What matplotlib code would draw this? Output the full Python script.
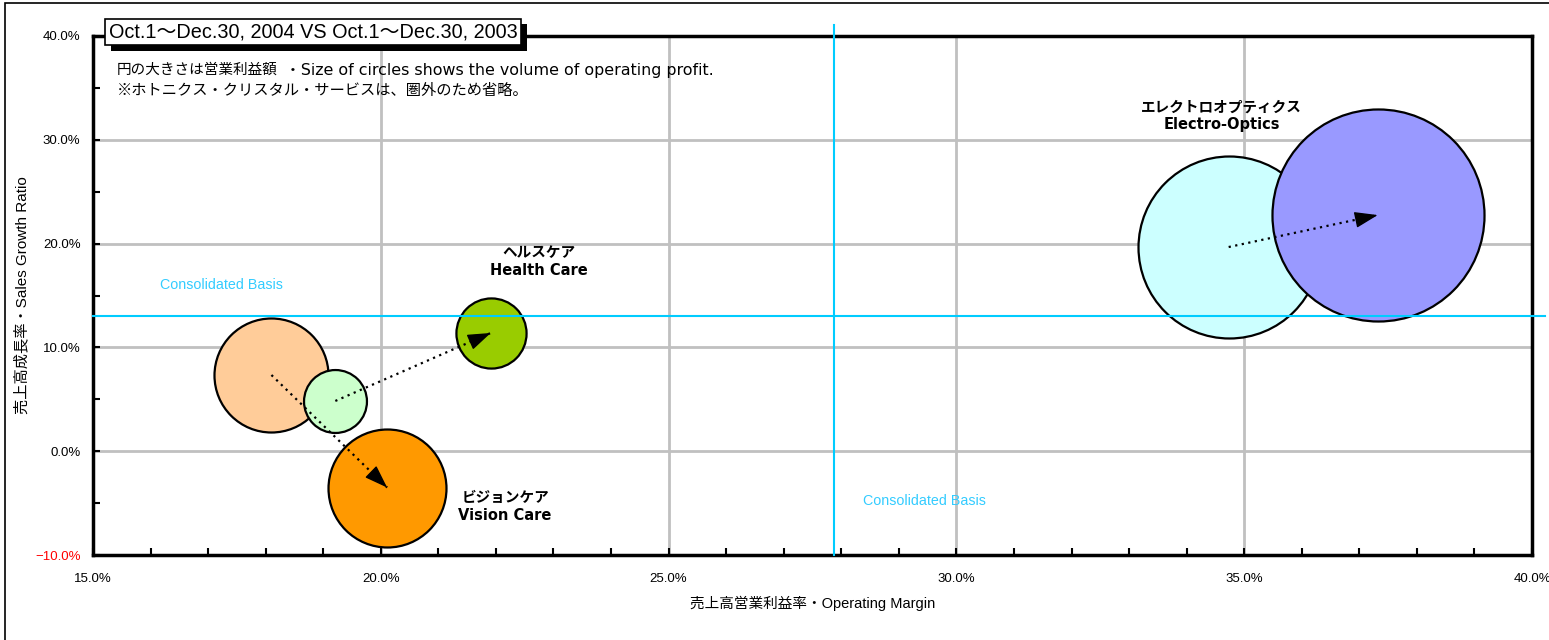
import matplotlib
matplotlib.use("Agg")
import numpy as np
import matplotlib.pyplot as plt
import matplotlib.patheffects as pe
from matplotlib.ticker import MultipleLocator, FuncFormatter
from matplotlib.patches import Rectangle

plt.rcParams['font.family'] = ['Noto Sans CJK JP', 'DejaVu Sans']
LATIN_WIDE = ['DejaVu Sans', 'Noto Sans CJK JP']
LATIN_ARIAL = ['Liberation Sans', 'Noto Sans CJK JP']

# segment data: operating margin (%), sales growth (%), operating profit (size)
segments = ["ビジョンケア\nVision Care", "ヘルスケア\nHealth Care", "エレクトロオプティクス\nElectro-Optics"]
margin_2003 = [18.10, 19.21, 34.73]
growth_2003 = [7.34, 4.84, 19.67]
profit_2003 = [32.5, 9.9, 82.8]
margin_2004 = [20.11, 21.91, 37.32]
growth_2004 = [-3.50, 11.39, 22.75]
profit_2004 = [34.8, 12.3, 112.4]
colors_2003 = ["#FFCC99", "#CCFFCC", "#CCFFFF"]
colors_2004 = ["#FF9900", "#99CC00", "#9999FF"]
label_pos = [(22.16, -5.3), (22.75, 18.3), (34.61, 32.3)]

basis_x = 27.87
basis_y = 13.03

fig = plt.figure(figsize=(15.49, 6.40), dpi=100)
ax = fig.add_axes([93 / 1549, 85 / 640, 1439 / 1549, 519 / 640])
ax.set_xlim(15, 40)
ax.set_ylim(-10, 40)


def bubble_size(p):
    # radius in pixels ~ 10*sqrt(profit) -> marker area in points^2
    r = 10 * p ** 0.5
    return (2 * r * 0.72) ** 2


# draw in stacking order
order = [(0, 2003), (0, 2004), (1, 2003), (1, 2004), (2, 2003), (2, 2004)]
for i, yr in order:
    if yr == 2003:
        ax.scatter(margin_2003[i], growth_2003[i], s=bubble_size(profit_2003[i]),
                   color=colors_2003[i], edgecolor="black", linewidth=1.6, zorder=3)
    else:
        ax.scatter(margin_2004[i], growth_2004[i], s=bubble_size(profit_2004[i]),
                   color=colors_2004[i], edgecolor="black", linewidth=1.6, zorder=3)

# dotted movement arrows 2003 -> 2004 with a solid head
for i in range(3):
    x0, y0 = margin_2003[i], growth_2003[i]
    x1, y1 = margin_2004[i], growth_2004[i]
    ax.plot([x0, x1], [y0, y1], color="black", lw=1.6, linestyle=(0, (1, 2)), zorder=5)
    p0 = ax.transData.transform((x0, y0))
    p1 = ax.transData.transform((x1, y1))
    d = (p1 - p0) / np.hypot(*(p1 - p0))
    back = 14 * 0.72
    ax.annotate("", xy=(x1, y1), xytext=(-d[0] * back, -d[1] * back),
                textcoords="offset points",
                arrowprops=dict(arrowstyle="-|>,head_length=1.2,head_width=0.42",
                                lw=1.0, color="black", shrinkA=0, shrinkB=0,
                                mutation_scale=12),
                zorder=6)
    ax.text(label_pos[i][0], label_pos[i][1], segments[i], ha="center", va="center",
            fontsize=10.5, fontweight="bold", linespacing=1.25, family=LATIN_WIDE, zorder=6)

# consolidated basis reference lines
ax.plot([15, 40.23], [basis_y, basis_y], color="#00CCFF", lw=1.5, clip_on=False, zorder=4)
ax.plot([basis_x, basis_x], [-10, 41.06], color="#00CCFF", lw=1.5, clip_on=False, zorder=4)
ax.text(17.24, 16.0, "Consolidated Basis", color="#33CCFF", fontsize=10.3,
        family=LATIN_ARIAL, ha="center", va="center")
ax.text(29.44, -4.8, "Consolidated Basis", color="#33CCFF", fontsize=10.3,
        family=LATIN_ARIAL, ha="center", va="center")

# axes styling
ax.xaxis.set_major_locator(MultipleLocator(5))
ax.xaxis.set_minor_locator(MultipleLocator(1))
ax.yaxis.set_major_locator(MultipleLocator(10))
ax.yaxis.set_minor_locator(MultipleLocator(5))
ax.xaxis.set_major_formatter(FuncFormatter(lambda v, _: f"{v:.1f}%"))
ax.yaxis.set_major_formatter(FuncFormatter(lambda v, _: f"{v:.1f}%".replace("-", "\u2212")))
ax.tick_params(which="both", direction="in", length=5, width=1.5, top=False, right=False)
ax.tick_params(axis="x", pad=13)
ax.tick_params(axis="y", pad=9)
for lab in ax.get_xticklabels() + ax.get_yticklabels():
    lab.set_fontsize(9.5)
    lab.set_family(["Liberation Sans Narrow", "Liberation Sans", "DejaVu Sans"])
for lab in ax.get_yticklabels():
    if lab.get_text().startswith("\u2212"):
        lab.set_color("red")
ax.grid(True, which="major", color="#C0C0C0", lw=2, zorder=0)
ax.set_axisbelow(True)
for sp in ax.spines.values():
    sp.set_linewidth(2.5)
    sp.set_color("black")

ax.set_xlabel("売上高営業利益率・Operating Margin", fontsize=10.5, labelpad=8, family=LATIN_ARIAL)
ax.set_ylabel("売上高成長率・Sales Growth Ratio", fontsize=11, labelpad=4, family=LATIN_ARIAL)

# title box with shadow
t = fig.text(109 / 1549, 1 - 32 / 640, "Oct.1〜Dec.30, 2004 VS Oct.1〜Dec.30, 2003",
             fontsize=14.3, va="center", ha="left", family=LATIN_ARIAL,
             bbox=dict(boxstyle="square,pad=0.18", fc="white", ec="black", lw=1.2))
t.get_bbox_patch().set_path_effects([
    pe.SimplePatchShadow(offset=(4, -4), shadow_rgbFace="black", alpha=1.0),
    pe.Normal()])

# notes
fig.text(117 / 1549, 1 - 70 / 640, "円の大きさは営業利益額",
         fontsize=10.5, va="center", ha="left")
fig.text(285 / 1549, 1 - 70 / 640, "・Size of circles shows the volume of operating profit.",
         fontsize=11.4, va="center", ha="left", family=LATIN_WIDE)
fig.text(117 / 1549, 1 - 90 / 640, "※ホトニクス・クリスタル・サービスは、圏外のため省略。",
         fontsize=11, va="center", ha="left")

# outer frame
fig.patches.append(Rectangle((5 / 1549, -0.1), 1.2, 1.1 - 3 / 640, transform=fig.transFigure,
                             fill=False, ec="black", lw=1.2))

fig.savefig("out.png", dpi=100)
